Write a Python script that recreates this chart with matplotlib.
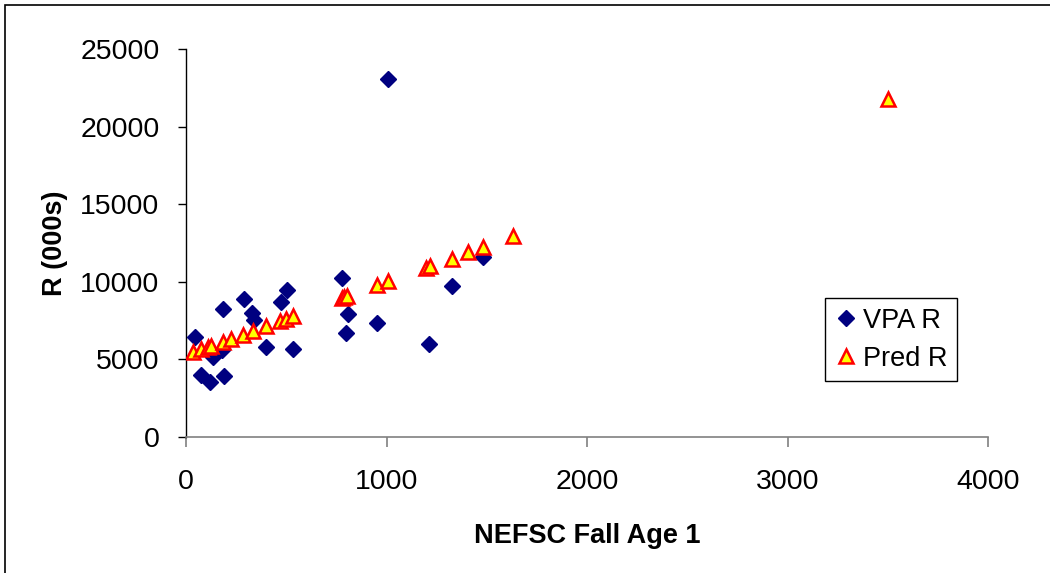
import matplotlib.pyplot as plt
import matplotlib.patches as mpatches

plt.rcParams['font.family'] = ['Liberation Sans', 'DejaVu Sans']

# survey index (NEFSC fall age 1) vs VPA recruitment, thousands
vpa_x = [45, 73, 120, 133, 178, 183, 191, 289, 328, 339, 399, 474, 502, 532,
         780, 797, 810, 955, 1005, 1214, 1325, 1483]
vpa_r = [6450, 3990, 3570, 5180, 5600, 8230, 3930, 8870, 7970, 7540, 5780,
         8680, 9470, 5650, 10230, 6720, 7910, 7370, 23070, 5970, 9750, 11620]

# predicted recruitment from the regression
pred_x = [33, 73, 110, 123, 186, 224, 286, 336, 399, 469, 499, 535,
          780, 790, 805, 955, 1009, 1197, 1217, 1325, 1408, 1480, 1629, 3500]
pred_r = [5500, 5650, 5800, 5850, 6150, 6300, 6600, 6830, 7150, 7480, 7620,
          7800, 8950, 9000, 9080, 9780, 10030, 10900, 10990, 11500, 11900,
          12240, 12950, 21750]

fig = plt.figure(figsize=(10.5, 5.73), dpi=100)
ax = fig.add_axes([186/1050, 1-437/573, 802/1050, 388/573])

ax.plot(vpa_x, vpa_r, linestyle='none', marker='D', ms=8,
        color='#000080', mec='#000080', label='VPA R', zorder=3)
ax.plot(pred_x, pred_r, linestyle='none', marker='^', ms=10.5,
        mfc='#FFFF00', mec='#FF0000', mew=1.8, label='Pred R', zorder=4)

ax.set_xlim(0, 4000)
ax.set_ylim(0, 25000)
ax.set_xticks([0, 1000, 2000, 3000, 4000])
ax.set_yticks(range(0, 25001, 5000))

for s in ['top', 'right']:
    ax.spines[s].set_visible(False)
ax.spines['left'].set_color('black')
ax.spines['bottom'].set_color('#808080')
ax.spines['left'].set_linewidth(1.0)
ax.spines['bottom'].set_linewidth(1.2)
ax.tick_params(axis='y', direction='out', length=6, width=1.0, color='black',
               labelsize=20.5, pad=13)
ax.tick_params(axis='x', direction='out', length=7, width=1.2, color='#808080',
               labelsize=20.5, pad=16)

ax.set_xlabel('NEFSC Fall Age 1', fontsize=19.5, fontweight='bold', labelpad=20)
ax.set_ylabel('R (000s)', fontsize=19.5, fontweight='bold', labelpad=9)

leg = ax.legend(loc='upper left', bbox_to_anchor=(0.797, 0.358),
                borderaxespad=0, fontsize=19.5, fancybox=False,
                edgecolor='black', framealpha=1, handlelength=0.8,
                handletextpad=0.25, borderpad=0.35, labelspacing=0.45)
leg.get_frame().set_linewidth(1.0)

# outer chart-area border (left and top edges visible)
fig.patches.append(mpatches.Rectangle((5/1050, -0.5), 2.0, 1.5 - 5/573,
                                      transform=fig.transFigure, fill=False,
                                      edgecolor='black', linewidth=1.2))

fig.savefig('out.png', dpi=100)
